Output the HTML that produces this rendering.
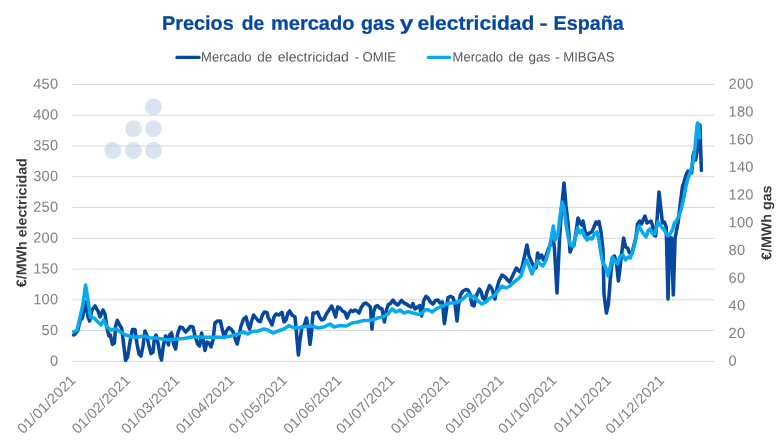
<!DOCTYPE html>
<html><head><meta charset="utf-8">
<style>
html,body{margin:0;padding:0;background:#fff;}
body{width:780px;height:440px;overflow:hidden;font-family:"Liberation Sans",sans-serif;}
svg{display:block;will-change:transform;filter:blur(0.4px);}
text{font-family:"Liberation Sans",sans-serif;}
</style></head><body>
<svg width="780" height="440" viewBox="0 0 780 440">
<rect width="780" height="440" fill="#ffffff"/>
<g font-size="19.7" font-weight="bold" fill="#05489d" stroke="#05489d" stroke-width="0.25">
<text transform="translate(162.1,29.7) rotate(0.05)" textLength="71.6" lengthAdjust="spacingAndGlyphs">Precios</text>
<text transform="translate(241.8,29.7) rotate(0.05)" textLength="22.4" lengthAdjust="spacingAndGlyphs">de</text>
<text transform="translate(270.9,29.7) rotate(0.05)" textLength="83.6" lengthAdjust="spacingAndGlyphs">mercado</text>
<text transform="translate(361.0,29.7) rotate(0.05)" textLength="33.9" lengthAdjust="spacingAndGlyphs">gas</text>
<text transform="translate(399.8,29.7) rotate(0.05)" textLength="13.6" lengthAdjust="spacingAndGlyphs">y</text>
<text transform="translate(417.6,29.7) rotate(0.05)" textLength="116.7" lengthAdjust="spacingAndGlyphs">electricidad</text>
<text transform="translate(539.4,29.7) rotate(0.05)" textLength="8.1" lengthAdjust="spacingAndGlyphs">-</text>
<text transform="translate(553.5,29.7) rotate(0.05)" textLength="70.2" lengthAdjust="spacingAndGlyphs">España</text>
</g>
<g stroke-linecap="round" stroke-width="3.4">
<line x1="177" y1="57.4" x2="199" y2="57.4" stroke="#05489d"/>
<line x1="428.5" y1="57.4" x2="449.5" y2="57.4" stroke="#07aaed"/>
</g>
<g font-size="13.5" fill="#595959">
<text transform="translate(201.1,61.4) rotate(0.05)" textLength="50.5" lengthAdjust="spacingAndGlyphs">Mercado</text>
<text transform="translate(257.2,61.4) rotate(0.05)" textLength="15.0" lengthAdjust="spacingAndGlyphs">de</text>
<text transform="translate(277.8,61.4) rotate(0.05)" textLength="71.1" lengthAdjust="spacingAndGlyphs">electricidad</text>
<text transform="translate(354.5,61.4) rotate(0.05)" textLength="4.7" lengthAdjust="spacingAndGlyphs">-</text>
<text transform="translate(362.5,61.4) rotate(0.05)" textLength="33.6" lengthAdjust="spacingAndGlyphs">OMIE</text>
<text transform="translate(452.6,61.4) rotate(0.05)" textLength="50.5" lengthAdjust="spacingAndGlyphs">Mercado</text>
<text transform="translate(508.4,61.4) rotate(0.05)" textLength="15.3" lengthAdjust="spacingAndGlyphs">de</text>
<text transform="translate(528.4,61.4) rotate(0.05)" textLength="21.9" lengthAdjust="spacingAndGlyphs">gas</text>
<text transform="translate(555.0,61.4) rotate(0.05)" textLength="5.0" lengthAdjust="spacingAndGlyphs">-</text>
<text transform="translate(563.2,61.4) rotate(0.05)" textLength="51.3" lengthAdjust="spacingAndGlyphs">MIBGAS</text>
</g>
<g stroke="#d9d9d9" stroke-width="1">
<line x1="72.5" y1="361.40" x2="714.5" y2="361.40"/>
<line x1="72.5" y1="330.62" x2="714.5" y2="330.62"/>
<line x1="72.5" y1="299.84" x2="714.5" y2="299.84"/>
<line x1="72.5" y1="269.07" x2="714.5" y2="269.07"/>
<line x1="72.5" y1="238.29" x2="714.5" y2="238.29"/>
<line x1="72.5" y1="207.51" x2="714.5" y2="207.51"/>
<line x1="72.5" y1="176.73" x2="714.5" y2="176.73"/>
<line x1="72.5" y1="145.96" x2="714.5" y2="145.96"/>
<line x1="72.5" y1="115.18" x2="714.5" y2="115.18"/>
<line x1="72.5" y1="84.40" x2="714.5" y2="84.40"/>
</g>
<g fill="#c0d0e8" fill-opacity="0.6">
<circle cx="153.5" cy="107" r="8.4"/>
<circle cx="133.5" cy="128.7" r="8.4"/>
<circle cx="153.5" cy="128.7" r="8.4"/>
<circle cx="112.8" cy="150.5" r="8.4"/>
<circle cx="133.5" cy="150.5" r="8.4"/>
<circle cx="153.5" cy="150.5" r="8.4"/>
</g>
<g font-size="14.6" fill="#818181" letter-spacing="0.22">
<text transform="translate(58.3,365.75) rotate(0.05)" text-anchor="end">0</text>
<text transform="translate(58.3,334.97) rotate(0.05)" text-anchor="end">50</text>
<text transform="translate(58.3,304.19) rotate(0.05)" text-anchor="end">100</text>
<text transform="translate(58.3,273.42) rotate(0.05)" text-anchor="end">150</text>
<text transform="translate(58.3,242.64) rotate(0.05)" text-anchor="end">200</text>
<text transform="translate(58.3,211.86) rotate(0.05)" text-anchor="end">250</text>
<text transform="translate(58.3,181.08) rotate(0.05)" text-anchor="end">300</text>
<text transform="translate(58.3,150.31) rotate(0.05)" text-anchor="end">350</text>
<text transform="translate(58.3,119.53) rotate(0.05)" text-anchor="end">400</text>
<text transform="translate(58.3,88.75) rotate(0.05)" text-anchor="end">450</text>
<text transform="translate(728.6,365.75) rotate(0.05)">0</text>
<text transform="translate(728.6,338.05) rotate(0.05)">20</text>
<text transform="translate(728.6,310.35) rotate(0.05)">40</text>
<text transform="translate(728.6,282.65) rotate(0.05)">60</text>
<text transform="translate(728.6,254.95) rotate(0.05)">80</text>
<text transform="translate(728.6,227.25) rotate(0.05)">100</text>
<text transform="translate(728.6,199.55) rotate(0.05)">120</text>
<text transform="translate(728.6,171.85) rotate(0.05)">140</text>
<text transform="translate(728.6,144.15) rotate(0.05)">160</text>
<text transform="translate(728.6,116.45) rotate(0.05)">180</text>
<text transform="translate(728.6,88.75) rotate(0.05)">200</text>
</g>
<g font-size="14.6" fill="#818181" letter-spacing="0.27">
<text transform="translate(70.00,374.2) rotate(-45)" text-anchor="end" dy="9.6">01/01/2021</text>
<text transform="translate(124.60,374.2) rotate(-45)" text-anchor="end" dy="9.6">01/02/2021</text>
<text transform="translate(173.92,374.2) rotate(-45)" text-anchor="end" dy="9.6">01/03/2021</text>
<text transform="translate(228.53,374.2) rotate(-45)" text-anchor="end" dy="9.6">01/04/2021</text>
<text transform="translate(281.37,374.2) rotate(-45)" text-anchor="end" dy="9.6">01/05/2021</text>
<text transform="translate(335.97,374.2) rotate(-45)" text-anchor="end" dy="9.6">01/06/2021</text>
<text transform="translate(388.81,374.2) rotate(-45)" text-anchor="end" dy="9.6">01/07/2021</text>
<text transform="translate(443.42,374.2) rotate(-45)" text-anchor="end" dy="9.6">01/08/2021</text>
<text transform="translate(498.02,374.2) rotate(-45)" text-anchor="end" dy="9.6">01/09/2021</text>
<text transform="translate(550.86,374.2) rotate(-45)" text-anchor="end" dy="9.6">01/10/2021</text>
<text transform="translate(605.47,374.2) rotate(-45)" text-anchor="end" dy="9.6">01/11/2021</text>
<text transform="translate(658.31,374.2) rotate(-45)" text-anchor="end" dy="9.6">01/12/2021</text>
</g>
<g font-size="14.1" font-weight="bold" fill="#3c3c3c">
<text transform="translate(26.4,222.7) rotate(-89.95)" text-anchor="middle" textLength="129" lengthAdjust="spacingAndGlyphs">€/MWh electricidad</text>
<text transform="translate(771.2,222.7) rotate(-89.95)" text-anchor="middle" textLength="74.5" lengthAdjust="spacingAndGlyphs">€/MWh gas</text>
</g>
<g fill="none" stroke-linejoin="round" stroke-linecap="round" stroke-width="3.55">
<polyline stroke="#05489d" points="73.7,335 75.2,334 77.6,331 80,321 82.4,318 85.6,302 88,317 89.6,321 92,310 95,306 98,311 100,317 103,310 105,314 107,328 109,336 110.4,335 112.4,344.4 114.4,343 115.6,326 117.4,320.4 119.6,325 121.6,328 123.6,344 125.6,360.4 127.6,357 130,342 132.4,329.6 135,329.6 137,344 139,354 141,356 143,346 145,331 147,336 149,346 151,353.6 153,352 154.4,338 156,335 158.2,344 160.3,356.5 161.5,360 163.3,346 165.6,336 167,338 168.4,345 169.6,335 171.6,333 173.6,344 175.6,349 177.6,334 180,327 182.4,327.6 185.6,332 188,329.6 190.4,326.4 193,327 195,336 197.6,344 199.6,346 201.6,333 203,340 205,350.4 207,342 209,343 211,347 213,340 215,323 217.6,321 220.4,321 222.4,330 224.4,337.6 226.4,331 229,327.6 231.6,329.6 233.6,333 235.6,340 237.2,344 239,336 241,326 243.6,319 246,317 248,325 249.6,329 251.6,321 253.6,315 256,318 258.4,321 260.4,321.6 262.4,315 264.4,312 267,312.4 268,317 270,321 272,325 274,317 276,314 279,315 282,312.4 284,322 286,320 288,313 289.6,311 292,315 295,317 296.4,332 298.4,355 300,340 302,327 304.4,325 306.4,318 308,326 310,344.4 311.6,332 313,313 315.6,313 317.6,312 319.6,317 321.6,320 324,319 326.4,314 329,310 331.6,306 333.6,311 335.6,317 337.6,307 340,308 342.4,311 345,312.4 347,318 349,313 351,310.4 353,311.6 355,310 357,311 359,313 361,308 363.6,304 366,303 368.4,305 370.4,307 372,329 373.6,312 375.6,306.4 377.6,305.6 379.6,308 382,309 384.4,322 386.4,310 388.4,304.4 390.4,303.6 393,300 395,303 397.6,305 399.6,303 401.6,300.4 404,303 406.4,304 409,306 411,307 413,303.6 415,309 417.6,307 419.6,305.6 421.6,316 423.6,301 426,296.4 428,298 430.4,302 433,304 435.6,300.4 438,300 440,303 442.4,302 444.4,323.6 446.4,310 448,297.6 450.4,296.4 453,297.6 455,304 457,321 458.6,305 460.4,295 463,291 466,289.6 468,290 470,294 472,305 474,306 476.3,296 479.4,289 481.2,292 482.8,298 485,300 487,292 489.6,285.6 492,289 495,299 497,288 499,281 502,275 505,277 507.6,280 509.6,282 512,277 514.4,272 516.4,268 519,271 520.4,272 522.4,266 525,254 527,245 529,256 531.6,262 534,267 536,268 537.6,253 539.6,258 541.6,255 543.6,260 546,256 548,250 551,243 553,238 554.4,248 557,293 558.5,262 559.6,238 561.6,208 564,183 566,206 567.8,221 568.9,233 570,252 572,247 574,245 576,232 578,218 580,223 581.6,225 583,221 585,231 587,235 589.6,233 591.6,232 593.6,228 596,222 597.6,224 599,221.6 601,232 603,250 604,294 606.4,313 608.4,304 610.4,278 612.4,258 614.4,256 616.4,262 618.4,281 620,268 621.6,254 623.6,238 625.6,247 627.6,248 629.6,253 632,253 634,245 636,237 637.6,224 639.6,221 641.6,224 643,220 645,216 647,223 649,222 651,221 652.4,225 654,235 655.6,236 657,220 659,192 661,210 662.4,223 664.4,222 666.2,227 668,299 669.8,237 671.5,238 673.3,295 675.1,238 676.6,230 678,223 680,206 682.4,187 684,182 686,175 688,171 689.6,172 691.6,173 693,156 694,152 695.6,160 697,152 698.4,140 700,125 700.6,148 701.4,170.4"/>
<polyline stroke="#07aaed" points="73.7,331.6 77,330.4 80.4,316 83,304 85.6,285 88,300 90.4,317 94,318 98,322 101,325 103.6,320 107,327 111,330 116,329 120.4,332 126,335 132,337 138,337 144,336 150,338 156,338 162,339 168,340 176,339 184,338.6 192,337 200,337 208,337.2 216,337.2 224,337.2 232,335.8 238,334 243,332 248,334 252,331.6 258,331 264,329 268,330 273,333 278,331 284,329 289,325.6 294,328 300,327.6 306,326.4 312,326 318,328 324,327 330,324 334,327 340,325.6 346,326 352,323 358,322 364,320.4 368,320.6 372,320 378,318 384,316.4 388,314 392,309 396,312 400,310 404,313 408,311.6 413,313 418,314.4 422,313 425,310 428,309.6 432,312 436,309 440,307 445,305 450,303 455,303 460,301 464,298 468,294 471,297 474,296 478,301 482,304 486,302 490,298 494,296 498,291 502,286 506,288 510,286 514,282 518,279 521,276 524,266 526.4,260 529,266 532,274 535,266 537.6,261 540,264 543,266 546,260 549,250 551.6,236 553.4,226 555,240 557.6,236 559.6,220 562,202 564,208 566,224 568,236 570.4,245 573,246 575.6,237 577.6,228 580,233 582,230 584.4,236 587,240 589.6,238 592,239 594.4,234 597,232 599,240 601,254 603,263 605.6,267 608,276 610,268 612.4,257 615,261 617.6,264 620.4,256 623,255 625.6,260 628,257 630.4,258 633,250 635.6,240 637.6,230 639,226 641,230 643.6,234 646,237 648,231 650,229 652,233 654.4,234 656.4,228 658,222 660,225 662.4,228 665,231 667.6,236 670,234 672.4,230 674.4,223 676.4,221 678.4,217 681,210 684,197 686,186 688,178 690,174 692,166 693.6,158 695,148 696,136 697.4,123 698.6,124 699.6,138"/>
</g>
</svg>
</body></html>
